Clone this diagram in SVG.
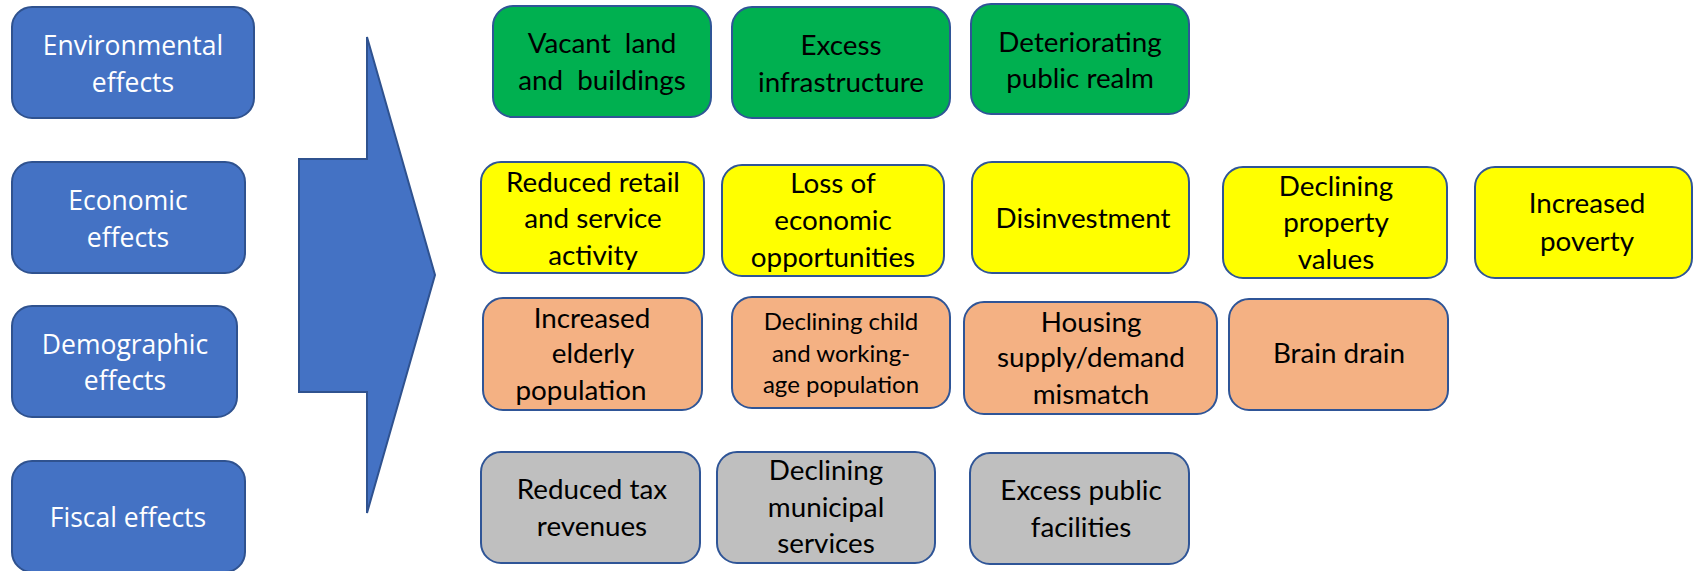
<svg xmlns="http://www.w3.org/2000/svg" width="1693" height="571" viewBox="0 0 1693 571">
  <style>
    .cat rect { fill: #4472C4; stroke: #2F528F; stroke-width: 2; }
    .cat text { font-family: "Open Sans", "Noto Sans", sans-serif; font-size: 26.5px; fill: #FFFFFF; text-anchor: middle; }
    .fx rect { stroke: #2F5597; stroke-width: 2; }
    .fx text { font-family: Lato, "Open Sans", sans-serif; font-size: 27.8px; fill: #000000; text-anchor: middle; }
    .env rect { fill: #00B050; }
    .eco rect { fill: #FFFF00; }
    .dem rect { fill: #F4B183; }
    .fis rect { fill: #BFBFBF; }
  </style>

  <rect width="1693" height="571" fill="#FFFFFF"/>

  <!-- category boxes -->
  <g id="environmental" class="cat">
    <rect x="12" y="7" width="242" height="111" rx="20"/>
    <text x="133" y="55">Environmental</text>
    <text x="133" y="92">effects</text>
  </g>
  <g id="economic" class="cat">
    <rect x="12" y="162" width="233" height="111" rx="20"/>
    <text x="128" y="210">Economic</text>
    <text x="128" y="247">effects</text>
  </g>
  <g id="demographic" class="cat">
    <rect x="12" y="306" width="225" height="111" rx="20"/>
    <text x="125" y="354">Demographic</text>
    <text x="125" y="390">effects</text>
  </g>
  <g id="fiscal" class="cat">
    <rect x="12" y="461" width="233" height="111" rx="20"/>
    <text x="128" y="527">Fiscal effects</text>
  </g>

  <!-- big block arrow -->
  <g id="connectors">
    <polygon points="299,159 367,159 367,37 435,275 367,513 367,392 299,392" fill="#4472C4" stroke="#2F528F" stroke-width="2"/>
  </g>

  <!-- environmental effects -->
  <g id="vacant-land" class="fx env">
    <rect x="493" y="6" width="218" height="111" rx="20"/>
    <text x="602" y="53" xml:space="preserve">Vacant  land</text>
    <text x="602" y="90" xml:space="preserve">and  buildings</text>
  </g>
  <g id="excess-infrastructure" class="fx env">
    <rect x="732" y="7" width="218" height="111" rx="20"/>
    <text x="841" y="55">Excess</text>
    <text x="841" y="92">infrastructure</text>
  </g>
  <g id="public-realm" class="fx env">
    <rect x="971" y="4" width="218" height="110" rx="20"/>
    <text x="1080" y="52">Deteriorating</text>
    <text x="1080" y="88">public realm</text>
  </g>

  <!-- economic effects -->
  <g id="retail" class="fx eco">
    <rect x="481" y="162" width="223" height="111" rx="20"/>
    <text x="593" y="192">Reduced retail</text>
    <text x="593" y="228">and service</text>
    <text x="593" y="265">activity</text>
  </g>
  <g id="opportunities" class="fx eco">
    <rect x="722" y="165" width="222" height="111" rx="20"/>
    <text x="833" y="193">Loss of</text>
    <text x="833" y="230">economic</text>
    <text x="833" y="267">opportunities</text>
  </g>
  <g id="disinvestment" class="fx eco">
    <rect x="972" y="162" width="217" height="111" rx="20"/>
    <text x="1083" y="228">Disinvestment</text>
  </g>
  <g id="property-values" class="fx eco">
    <rect x="1223" y="167" width="224" height="111" rx="20"/>
    <text x="1336" y="196">Declining</text>
    <text x="1336" y="232">property</text>
    <text x="1336" y="269">values</text>
  </g>
  <g id="poverty" class="fx eco">
    <rect x="1475" y="167" width="217" height="111" rx="20"/>
    <text x="1587" y="213">Increased</text>
    <text x="1587" y="251">poverty</text>
  </g>

  <!-- demographic effects -->
  <g id="elderly" class="fx dem">
    <rect x="483" y="298" width="219" height="112" rx="20"/>
    <text x="592" y="328">Increased</text>
    <text x="593" y="363">elderly</text>
    <text x="581" y="400">population</text>
  </g>
  <g id="working-age" class="fx dem">
    <rect x="732" y="297" width="218" height="111" rx="20"/>
    <text x="841" y="330" style="font-size:24px">Declining child</text>
    <text x="841" y="362" style="font-size:24px">and working-</text>
    <text x="841" y="393" style="font-size:24px">age population</text>
  </g>
  <g id="housing" class="fx dem">
    <rect x="964" y="302" width="253" height="112" rx="20"/>
    <text x="1091" y="332">Housing</text>
    <text x="1091" y="367">supply/demand</text>
    <text x="1091" y="404">mismatch</text>
  </g>
  <g id="brain-drain" class="fx dem">
    <rect x="1229" y="299" width="219" height="111" rx="20"/>
    <text x="1339" y="363">Brain drain</text>
  </g>

  <!-- fiscal effects -->
  <g id="tax-revenues" class="fx fis">
    <rect x="481" y="452" width="219" height="111" rx="20"/>
    <text x="592" y="499">Reduced tax</text>
    <text x="592" y="536">revenues</text>
  </g>
  <g id="municipal-services" class="fx fis">
    <rect x="717" y="452" width="218" height="111" rx="20"/>
    <text x="826" y="480">Declining</text>
    <text x="826" y="517">municipal</text>
    <text x="826" y="553">services</text>
  </g>
  <g id="public-facilities" class="fx fis">
    <rect x="970" y="453" width="219" height="111" rx="20"/>
    <text x="1081" y="500">Excess public</text>
    <text x="1081" y="537">facilities</text>
  </g>
</svg>
